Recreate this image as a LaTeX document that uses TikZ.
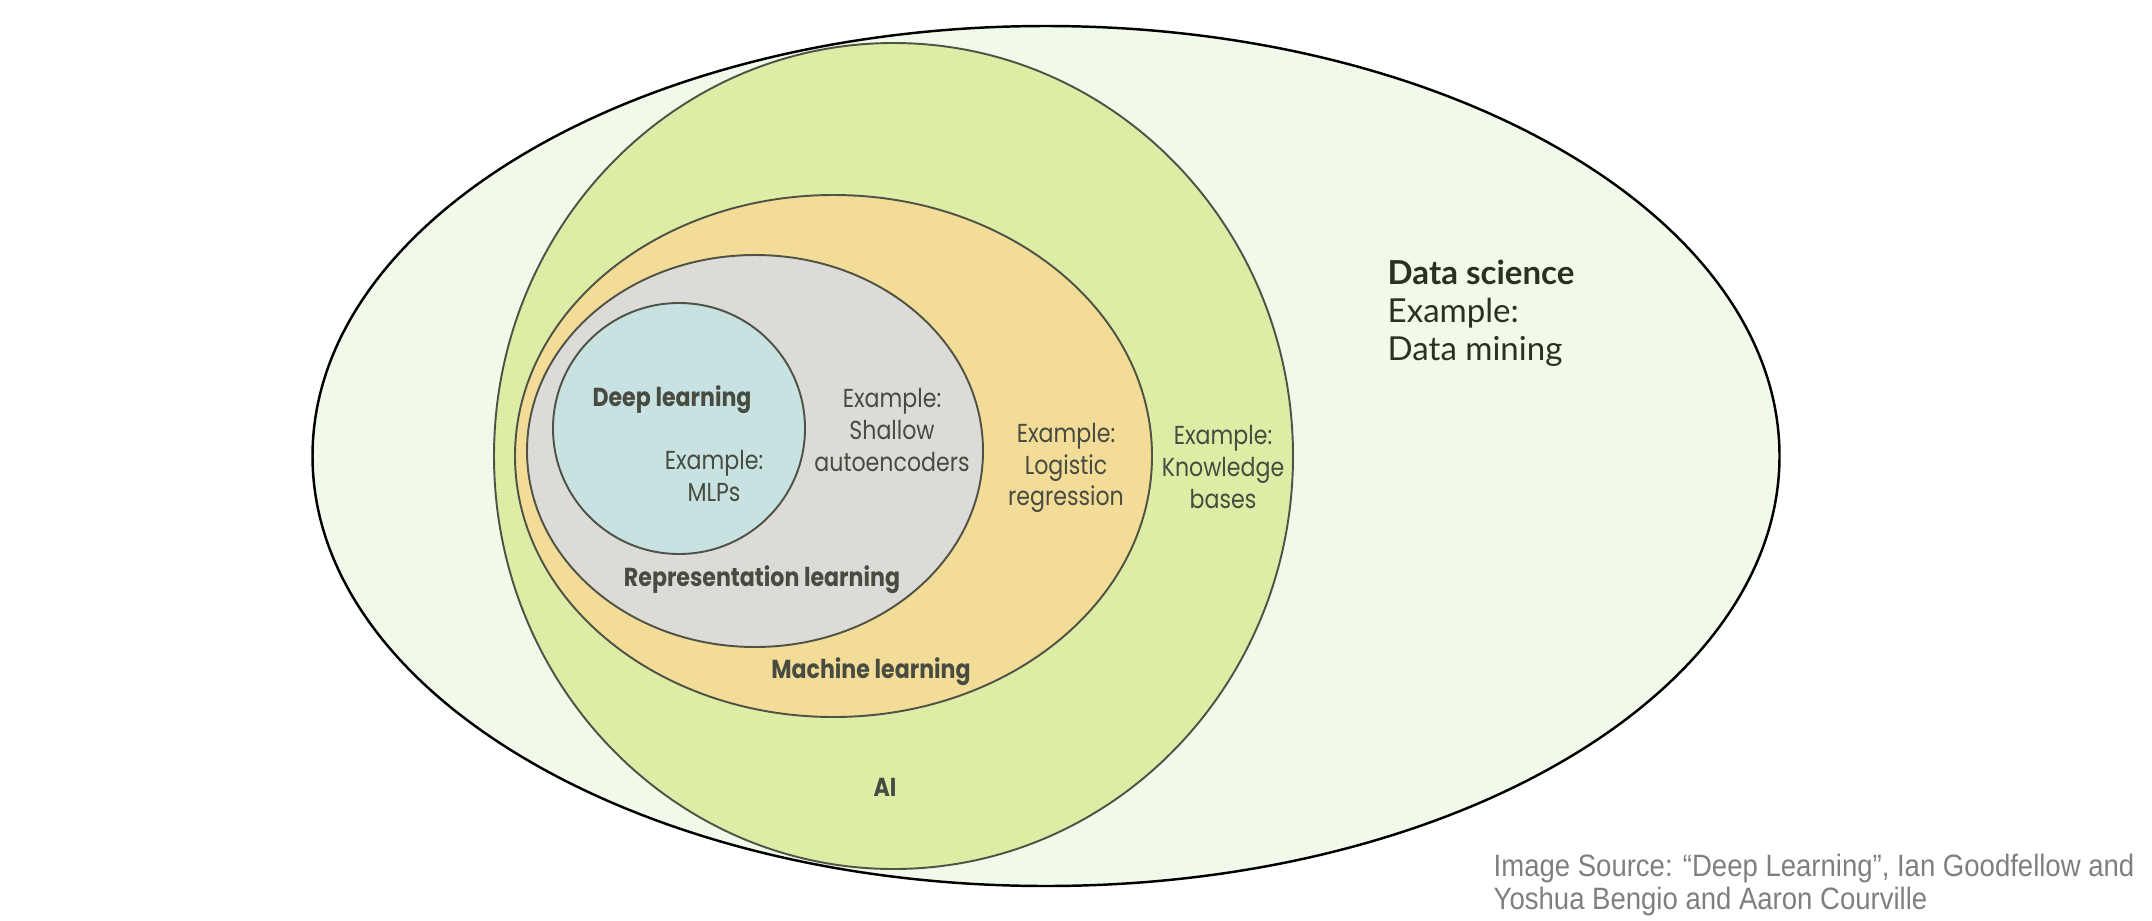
\documentclass[tikz,border=0pt]{standalone}
\usepackage{fontspec}
\setmainfont{Lato}
\newfontfamily\geofont[FakeStretch=0.85]{Poppins}
\newfontfamily\srcfont[FakeStretch=0.89]{Liberation Sans}
\usepackage{xcolor}
\usetikzlibrary{shapes.geometric}

\definecolor{dscol}{HTML}{F1FAEA}
\definecolor{aicol}{HTML}{DDEDA5}
\definecolor{mlcol}{HTML}{F2DC97}
\definecolor{rlcol}{HTML}{DCDBD8}
\definecolor{dlcol}{HTML}{C8E1E1}
\definecolor{setline}{HTML}{4F5346}
\definecolor{settext}{HTML}{474B40}
\definecolor{dstext}{HTML}{2B3022}
\definecolor{srctext}{HTML}{7F7F7F}

\begin{document}
\begin{tikzpicture}[x=0.1mm,y=-0.1mm,
          set/.style={ellipse,draw=setline,line width=0.55pt,inner sep=0pt},
          setname/.style={font=\geofont\fontsize{7.4}{9}\selectfont\bfseries,text=settext,inner sep=0pt},
          example/.style={font=\geofont\fontsize{7.4}{9}\selectfont,text=settext,align=center,inner sep=0pt}]
          \useasboundingbox (0,0) rectangle (2152,920);
          \node[set,draw=black,line width=0.7pt,fill=dscol,minimum width=146.7mm,minimum height=86mm] (ds) at (1046,456) {};
          \node[set,fill=aicol,minimum width=79.9mm,minimum height=82.6mm] (ai) at (893.5,456) {};
          \node[set,fill=mlcol,minimum width=63.7mm,minimum height=52.2mm] (ml) at (833.5,456) {};
          \node[set,fill=rlcol,minimum width=45.6mm,minimum height=39.2mm] (rl) at (755,451) {};
          \node[set,fill=dlcol,minimum width=25.2mm,minimum height=25.1mm] (dl) at (679,428.5) {};

          \node[setname] (dlname) at (672,400) {Deep learning};
          \node[example] (dlex) at (714,476) {Example:\\MLPs};
          \node[setname] (rlname) at (762,580) {Representation learning};
          \node[example] (rlex) at (892,430) {Example:\\Shallow\\autoencoders};
          \node[setname] (mlname) at (871,672) {Machine learning};
          \node[example] (mlex) at (1066,468) {Example:\\Logistic\\regression};
          \node[setname] (ainame) at (885,787) {AI};
          \node[example] (aiex) at (1223,467) {Example:\\Knowledge\\bases};

          \node[anchor=north west,align=left,inner sep=0pt,text=dstext,font=\fontsize{9.4}{10.9}\selectfont] (dsname) at (1387,259)
            {\textbf{Data science}\\Example:\\Data mining};
          \node[anchor=north west,align=left,inner sep=0pt,text=srctext,font=\srcfont\fontsize{8.8}{9.4}\selectfont] (source) at (1493,853)
            {Image Source: “Deep Learning”, Ian Goodfellow and\\Yoshua Bengio and Aaron Courville};
        \end{tikzpicture}
\end{document}
